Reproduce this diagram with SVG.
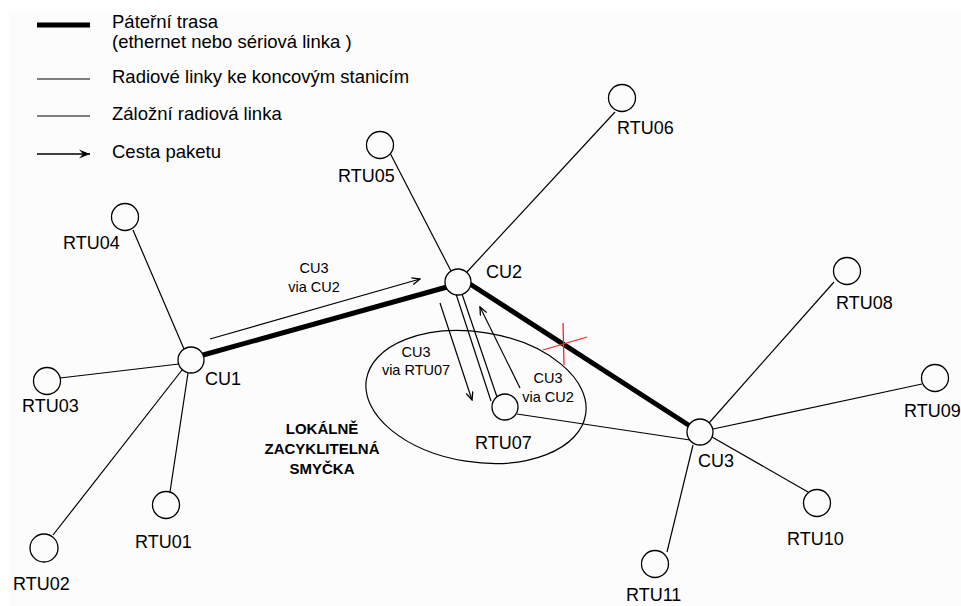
<svg xmlns="http://www.w3.org/2000/svg" width="961" height="606" viewBox="0 0 961 606">
<defs>
<style>
.t{font-family:"Liberation Sans",Arial,sans-serif;font-size:18px;fill:#000}
.lg{font-family:"Liberation Sans",Arial,sans-serif;font-size:18.5px;fill:#000}
.s{font-family:"Liberation Sans",Arial,sans-serif;font-size:14.5px;fill:#000;text-anchor:middle}
.b{font-family:"Liberation Sans",Arial,sans-serif;font-size:15px;font-weight:bold;fill:#000;text-anchor:middle}
.n{fill:#fcfcfc;stroke:#000;stroke-width:1.3}
.thin{stroke:#000;stroke-width:1.2;fill:none}
.thick{stroke:#000;stroke-width:5;fill:none}
.arrow{stroke:#000;stroke-width:1.2;fill:none;marker-end:url(#ah)}
.red{stroke:#ff2020;stroke-width:1.3}
</style>
<marker id="ah" markerWidth="10" markerHeight="8" refX="9" refY="4" orient="auto" markerUnits="userSpaceOnUse">
<path d="M1,0.5 L9,4 L1,7.5" fill="none" stroke="#000" stroke-width="1.3"/>
</marker>
<marker id="ahL" markerWidth="12" markerHeight="10" refX="11" refY="5" orient="auto" markerUnits="userSpaceOnUse">
<path d="M0,0.5 L11,5 L0,9.5 L4,5 z" fill="#000"/>
</marker>
</defs>
<rect x="0" y="0" width="961" height="606" fill="#ffffff"/>
<rect x="9" y="12" width="952" height="594" fill="#fcfcfc"/>

<g id="legend">
<line x1="37" y1="25" x2="90" y2="25" class="thick"/>
<text x="112" y="28" class="lg">Páteřní trasa</text>
<text x="112" y="48" class="lg">(ethernet nebo sériová linka )</text>
<line x1="37" y1="79" x2="90" y2="79" class="thin"/>
<text x="112" y="83" class="lg">Radiové linky ke koncovým stanicím</text>
<line x1="37" y1="116" x2="90" y2="116" class="thin"/>
<text x="112" y="120" class="lg">Záložní radiová linka</text>
<line x1="37" y1="154" x2="90" y2="154" stroke="#000" stroke-width="1.3" marker-end="url(#ahL)"/>
<text x="112" y="158" class="lg">Cesta paketu</text>
</g>

<g id="connectors">
<line x1="203" y1="355" x2="447" y2="287" class="thick"/>
<line x1="470" y1="284" x2="690" y2="426" class="thick"/>
<line x1="133" y1="230" x2="184" y2="349" class="thin"/>
<line x1="60" y1="378" x2="179" y2="364" class="thin"/>
<line x1="53" y1="535" x2="182" y2="370" class="thin"/>
<line x1="170" y1="492" x2="188" y2="373" class="thin"/>
<line x1="390" y1="153" x2="451" y2="271" class="thin"/>
<line x1="615" y1="112" x2="466" y2="273" class="thin"/>
<line x1="456" y1="294" x2="491" y2="401" class="thin"/>
<line x1="462" y1="294" x2="497" y2="397" class="thin"/>
<line x1="517" y1="414" x2="690" y2="440" class="thin"/>
<line x1="834" y1="282" x2="709" y2="423" class="thin"/>
<line x1="922" y1="384" x2="713" y2="429" class="thin"/>
<line x1="712" y1="437" x2="808" y2="492" class="thin"/>
<line x1="693" y1="445" x2="667" y2="552" class="thin"/>
<line x1="210" y1="339" x2="420" y2="279" class="arrow"/>
<line x1="440" y1="303" x2="472" y2="400" class="arrow"/>
<line x1="520" y1="388" x2="480" y2="307" class="arrow"/>
</g>

<g id="loop">
<ellipse cx="476" cy="397" rx="111" ry="65" transform="rotate(9 476 397)" class="thin"/>
<text x="322" y="434" class="b">LOKÁLNĚ</text>
<text x="322" y="454" class="b">ZACYKLITELNÁ</text>
<text x="322" y="474" class="b">SMYČKA</text>
</g>

<g id="cut">
<line x1="563" y1="323" x2="564" y2="365" class="red"/>
<line x1="543" y1="350" x2="587" y2="337" class="red"/>
</g>

<g id="labels-arrows">
<text x="314" y="273" class="s">CU3</text>
<text x="314" y="292" class="s">via CU2</text>
<text x="416" y="357" class="s">CU3</text>
<text x="416" y="375" class="s">via RTU07</text>
<text x="548" y="383" class="s">CU3</text>
<text x="548" y="402" class="s">via CU2</text>
</g>

<g id="CU1"><circle cx="191" cy="360" r="13" class="n"/><text x="205" y="385" class="t">CU1</text></g>
<g id="CU2"><circle cx="458" cy="282" r="13" class="n"/><text x="486" y="278" class="t">CU2</text></g>
<g id="CU3"><circle cx="700" cy="432" r="13" class="n"/><text x="698" y="467" class="t">CU3</text></g>
<g id="RTU01"><circle cx="166" cy="505" r="13.5" class="n"/><text x="135" y="548" class="t">RTU01</text></g>
<g id="RTU02"><circle cx="44" cy="548" r="14" class="n"/><text x="13" y="590" class="t">RTU02</text></g>
<g id="RTU03"><circle cx="47" cy="381" r="13.5" class="n"/><text x="22" y="412" class="t">RTU03</text></g>
<g id="RTU04"><circle cx="125" cy="217" r="13.5" class="n"/><text x="63" y="249" class="t">RTU04</text></g>
<g id="RTU05"><circle cx="380" cy="145" r="13.5" class="n"/><text x="338" y="182" class="t">RTU05</text></g>
<g id="RTU06"><circle cx="622" cy="98" r="13.5" class="n"/><text x="617" y="134" class="t">RTU06</text></g>
<g id="RTU07"><circle cx="505" cy="407" r="13" class="n"/><text x="475" y="449" class="t">RTU07</text></g>
<g id="RTU08"><circle cx="847" cy="271" r="13.5" class="n"/><text x="836" y="309" class="t">RTU08</text></g>
<g id="RTU09"><circle cx="935" cy="378" r="13.5" class="n"/><text x="904" y="417" class="t">RTU09</text></g>
<g id="RTU10"><circle cx="817" cy="503" r="13.5" class="n"/><text x="787" y="545" class="t">RTU10</text></g>
<g id="RTU11"><circle cx="655" cy="564" r="13.5" class="n"/><text x="626" y="601" class="t">RTU11</text></g>
</svg>
